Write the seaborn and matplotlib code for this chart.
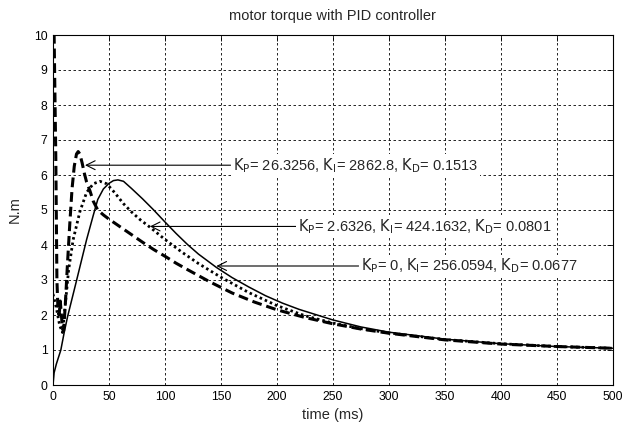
import matplotlib
matplotlib.use("Agg")
import matplotlib.pyplot as plt
import numpy as np
import pandas as pd
import seaborn as sns

# Motor torque responses (N.m) for three PID gain sets, time in ms
t_kd15 = [0, 1, 2.5, 3.5, 4.5, 5.5, 6.5, 7.5, 8.5, 9.5, 11, 13, 15, 17, 19, 21,
          22.5, 24, 26, 28, 30, 33, 36, 40, 45, 50, 60, 70, 80, 90, 100, 110,
          120, 140, 160, 180, 200, 225, 250, 275, 300, 350, 400, 450, 500]
v_kd15 = [10, 10, 6.5, 3.0, 2.1, 2.0, 2.4, 2.0, 1.6, 1.55, 2.3, 3.5, 4.6, 5.6,
          6.25, 6.6, 6.67, 6.6, 6.35, 6.05, 5.8, 5.55, 5.25, 5.0, 4.86, 4.74,
          4.52, 4.3, 4.08, 3.87, 3.68, 3.48, 3.3, 2.95, 2.63, 2.37, 2.15, 1.93,
          1.75, 1.6, 1.48, 1.29, 1.17, 1.1, 1.05]

t_kd08 = [0, 3, 6, 8.5, 11, 14, 18, 24, 30, 36, 42, 48, 55, 63, 70, 78, 87,
          100, 115, 130, 150, 175, 200, 225, 250, 275, 300, 350, 400, 450, 500]
v_kd08 = [2.6, 2.2, 1.7, 1.5, 2.3, 3.3, 4.15, 4.95, 5.5, 5.75, 5.82, 5.75, 5.5,
          5.18, 4.95, 4.72, 4.5, 4.16, 3.8, 3.47, 3.08, 2.64, 2.27, 1.98, 1.77,
          1.61, 1.49, 1.3, 1.18, 1.1, 1.05]

t_kd07 = [0, 1, 3, 7, 10, 13, 20, 25, 30, 36, 40, 45, 50, 54, 58, 63, 70, 80,
          90, 100, 110, 120, 130, 146, 160, 175, 190, 205, 220, 250, 275, 300,
          350, 400, 450, 500]
v_kd07 = [0, 0.35, 0.6, 1.0, 1.5, 1.95, 2.85, 3.5, 4.15, 4.85, 5.3, 5.6, 5.76,
          5.84, 5.86, 5.82, 5.62, 5.32, 5.0, 4.66, 4.33, 4.02, 3.74, 3.36, 3.07,
          2.8, 2.55, 2.34, 2.16, 1.86, 1.66, 1.51, 1.31, 1.18, 1.1, 1.05]

labels = [r"$\mathrm{K_P}$= 26.3256, $\mathrm{K_I}$= 2862.8, $\mathrm{K_D}$= 0.1513",
          r"$\mathrm{K_P}$= 2.6326, $\mathrm{K_I}$= 424.1632, $\mathrm{K_D}$= 0.0801",
          r"$\mathrm{K_P}$= 0, $\mathrm{K_I}$= 256.0594, $\mathrm{K_D}$= 0.0677"]
series_names = ["set1", "set2", "set3"]

x_ticks = list(range(0, 501, 50))
y_ticks = list(range(0, 11))

df = pd.concat([
    pd.DataFrame({"time": t_kd15, "torque": v_kd15, "gains": series_names[0]}),
    pd.DataFrame({"time": t_kd08, "torque": v_kd08, "gains": series_names[1]}),
    pd.DataFrame({"time": t_kd07, "torque": v_kd07, "gains": series_names[2]}),
], ignore_index=True)

sns.set_style("white")
plt.rcParams["font.family"] = ["Liberation Sans", "DejaVu Sans"]
plt.rcParams["mathtext.default"] = "regular"

fig = plt.figure(figsize=(6.24, 4.30), dpi=100)
ax = fig.add_axes([53 / 624, 1 - 385 / 430, (612.5 - 53) / 624, (385 - 35) / 430])

sns.lineplot(data=df, x="time", y="torque", style="gains", size="gains",
             style_order=series_names, size_order=series_names,
             dashes={"set1": (3.2, 1.6), "set2": (0.9, 1.1), "set3": ""},
             sizes={"set1": 2.2, "set2": 2.0, "set3": 1.1},
             color="black", estimator=None, legend=False, ax=ax, zorder=3)

ax.set_xlim(0, 500)
ax.set_ylim(0, 10)
ax.set_xticks(x_ticks)
ax.set_yticks(y_ticks)
ax.tick_params(direction="in", length=4, width=0.6, labelsize=8.8,
               top=True, right=True, colors="black", pad=4)
ax.grid(True, color="black", linestyle=(0, (3, 3)), linewidth=0.6)
for s in ax.spines.values():
    s.set_color("black")
    s.set_linewidth(0.8)

ax.set_title("motor torque with PID controller", fontsize=10.5, pad=11)
ax.set_xlabel("time (ms)", fontsize=10.5, labelpad=4)
ax.set_ylabel("N.m", fontsize=10.5, labelpad=9)

arrow_kw = dict(arrowstyle="->", lw=0.8, color="black", shrinkA=0, shrinkB=0,
                mutation_scale=16)
box_kw = dict(facecolor="white", edgecolor="none", pad=1.5)
ann = [((28.6, 6.28), (160.5, 6.28)),
       ((86.6, 4.53), (219.0, 4.53)),
       ((146.0, 3.40), (275.0, 3.40))]
for lab, (tip, tail) in zip(labels, ann):
    ax.annotate(lab, xy=tip, xytext=tail, ha="left", va="center",
                fontsize=10.5, bbox=box_kw, arrowprops=arrow_kw, zorder=5)

fig.savefig("out.png", dpi=100)
